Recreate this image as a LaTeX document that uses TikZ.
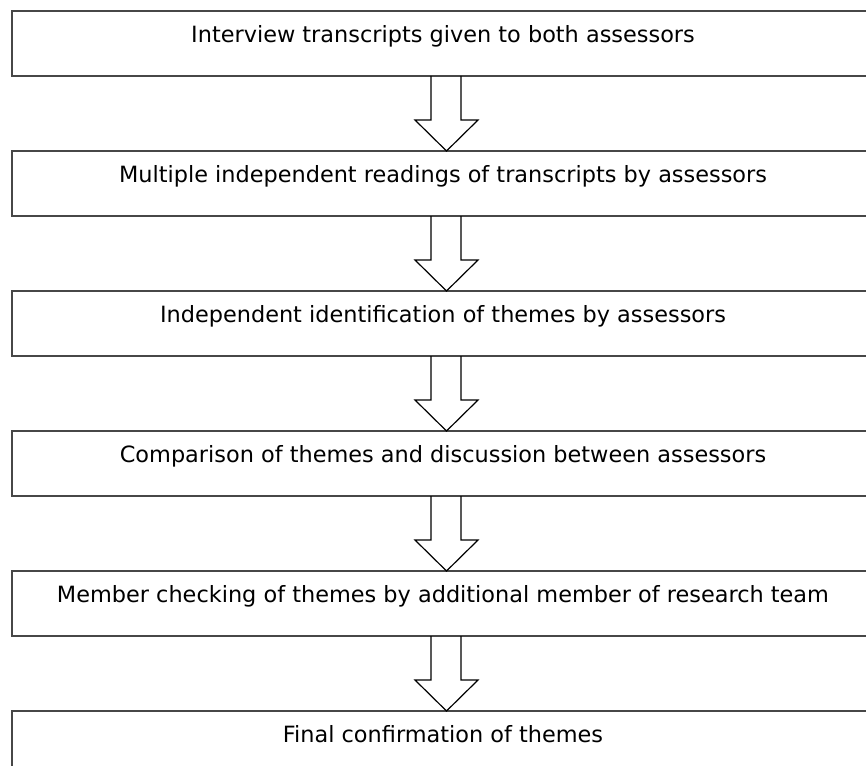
\documentclass[tikz,border=0pt]{standalone}
\usepackage{fontspec}
\setmainfont{DejaVu Sans}
\usetikzlibrary{positioning,calc}

\tikzset{
  stage/.style={draw=black!72, line width=1pt, minimum width=431pt,
    minimum height=32.5pt, inner sep=0pt, outer sep=0pt,
    text height=8pt, text depth=9pt, font=\fontsize{11.2}{13}\selectfont},
  blockarrow/.style={draw=black, line width=0.6pt}
}
% hollow arrow from the bottom of one stage to the top of the next
\newcommand\stagearrow[2]{%
  \draw[blockarrow] ($(#1.south west)+(419,0)$) -- ($(#1.south west)+(419,44)$)
    -- ($(#1.south west)+(403,44)$) -- ($(#2.north west)+(434.5,0)$)
    -- ($(#1.south west)+(466,44)$) -- ($(#1.south west)+(449,44)$)
    -- ($(#1.south west)+(449,0)$);}

\begin{document}
\begin{tikzpicture}[x=0.5pt,y=-0.5pt, node distance=37.5pt]
   \useasboundingbox (0,0) rectangle (866,765);
   \node (S1) [stage, anchor=north west] at (12,11) {Interview transcripts given to both assessors};
   \node (S2) [stage, below=of S1] {Multiple independent readings of transcripts by assessors};
   \node (S3) [stage, below=of S2] {Independent identification of themes by assessors};
   \node (S4) [stage, below=of S3] {Comparison of themes and discussion between assessors};
   \node (S5) [stage, below=of S4] {Member checking of themes by additional member of research team};
   \node (S6) [stage, below=of S5] {Final confirmation of themes};

   \stagearrow{S1}{S2}
   \stagearrow{S2}{S3}
   \stagearrow{S3}{S4}
   \stagearrow{S4}{S5}
   \stagearrow{S5}{S6}
\end{tikzpicture}
\end{document}
